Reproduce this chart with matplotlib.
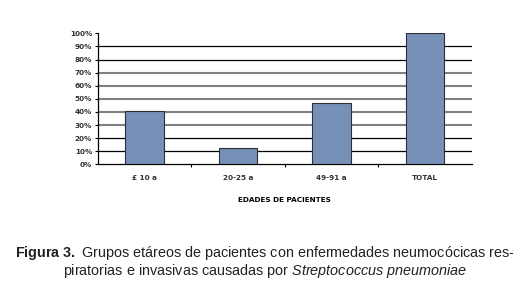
import numpy as np
import matplotlib.pyplot as plt

plt.rcParams['mathtext.fontset'] = 'custom'
plt.rcParams['mathtext.rm'] = 'Liberation Sans'
plt.rcParams['mathtext.bf'] = 'Liberation Sans:bold'
plt.rcParams['mathtext.it'] = 'Liberation Sans:italic'

categories = ['£ 10 a', '20-25 a', '49-91 a', 'TOTAL']
values = [40.6, 12.5, 46.9, 100.0]
yticks = list(range(0, 101, 10))
gray_lines = [30, 40, 50, 60, 70]

fig = plt.figure(figsize=(5.3, 3.05), dpi=100)
ax = fig.add_axes([97.7 / 530, 1 - 164.3 / 305, 374 / 530, 131 / 305])

x = np.arange(len(categories))
ax.bar(x, values, width=0.41, color='#7790b8', edgecolor='#2a2f3a', linewidth=0.8, zorder=3)

for v in yticks[1:-1]:
    c = '#808080' if v in gray_lines else 'black'
    lw = 1.5 if v in gray_lines else 0.9
    ax.axhline(v, color=c, linewidth=lw, zorder=1)

ax.set_xlim(-0.5, len(categories) - 0.5)
ax.set_ylim(0, 100)
ax.set_yticks(yticks)
ax.set_yticklabels([f'{v}%' for v in yticks], fontsize=5.2, fontweight='bold', color='#333333')
ax.set_xticks(x)
ax.set_xticklabels(categories, fontsize=5.2, fontweight='bold', color='#333333')
ax.set_xticks(np.arange(0.5, len(categories) - 1, 1), minor=True)
ax.tick_params(axis='x', which='major', length=0, pad=8)
ax.tick_params(axis='x', which='minor', length=2, direction='out', width=0.8)
ax.tick_params(axis='y', length=2, width=0.8, pad=2)
for s in ['top', 'right']:
    ax.spines[s].set_visible(False)
for s in ['left', 'bottom']:
    ax.spines[s].set_linewidth(0.9)
ax.set_xlabel('EDADES DE PACIENTES', fontsize=5.2, fontweight='bold', labelpad=11)

fig.text(0.5, 1 - 253 / 305, r'$\mathbf{Figura\ 3.}$ Grupos etáreos de pacientes con enfermedades neumocócicas res-',
         ha='center', va='center', fontsize=10.4, family='Liberation Sans', color='#222222')
fig.text(0.5, 1 - 271 / 305, 'piratorias e invasivas causadas por $\\mathit{Streptococcus\\ pneumoniae}$',
         ha='center', va='center', fontsize=10.4, family='Liberation Sans', color='#222222')

fig.savefig('out.png', dpi=100)
